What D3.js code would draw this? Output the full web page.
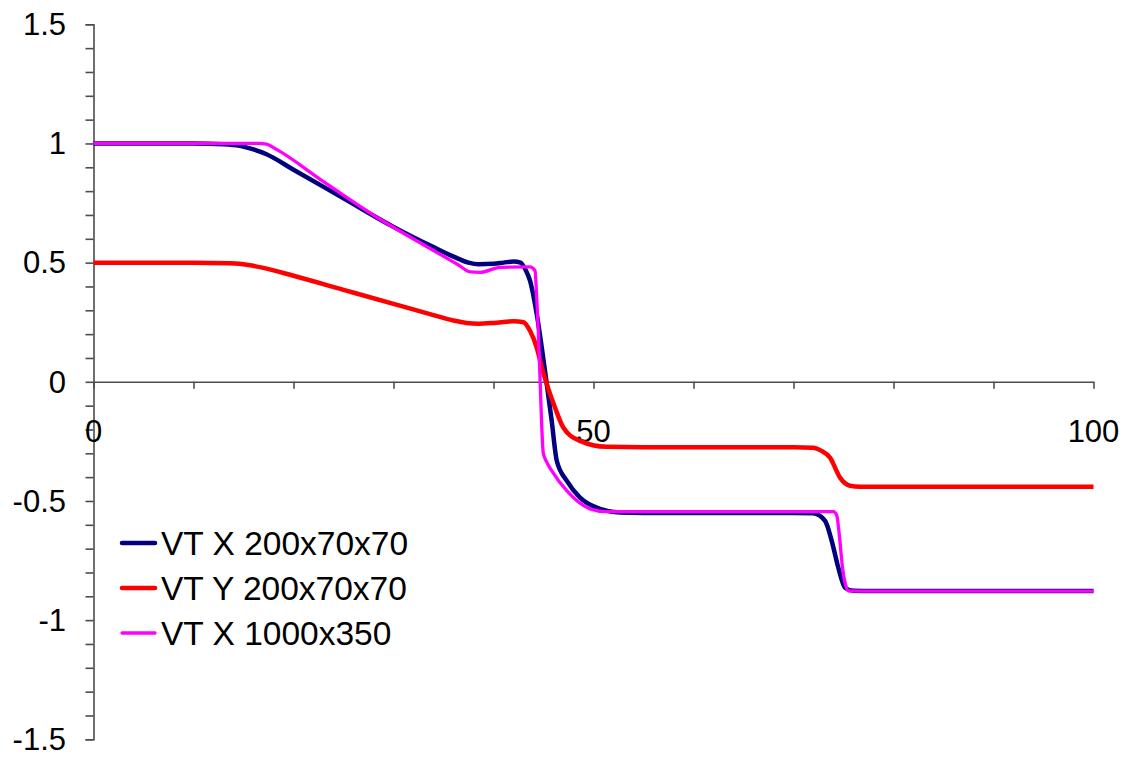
<!DOCTYPE html>
<html>
<head>
<meta charset="utf-8">
<script src="https://cdn.jsdelivr.net/npm/d3@7"></script>
<style>
  html, body { margin: 0; padding: 0; background: #fff; }
  svg { display: block; font-family: "Liberation Sans", Arial, sans-serif; }
</style>
</head>
<body>
<svg id="chart" width="1130" height="758"></svg>
<script>
// Velocity profiles along the channel
const seriesNames = ["VT X 200x70x70", "VT Y 200x70x70", "VT X 1000x350"];

const vtX200_x = [0, 10, 13, 14.65, 16, 17.3, 20, 25, 30, 34, 36, 37.5, 38.5, 40, 41, 42, 42.7, 43.2,
  43.65, 44.32, 45.15, 45.82, 46.32, 47.32, 48.65, 50.65, 52.65, 55, 60, 65, 70, 71.95, 73.15, 73.82, 74.48, 75.15, 75.98, 78, 85, 100];
const vtX200_y = [1, 1, 0.997, 0.99, 0.975, 0.955, 0.89, 0.77, 0.65, 0.565, 0.525, 0.5, 0.493, 0.495, 0.5, 0.505, 0.5, 0.47,
  0.424, 0.285, 0.046, -0.164, -0.33, -0.415, -0.486, -0.533, -0.548, -0.55, -0.55, -0.55, -0.55, -0.552, -0.583, -0.667, -0.78, -0.864, -0.877, -0.878, -0.878, -0.878];

const vtY200_x = [0, 10, 13.65, 15.5, 17, 20, 25, 30, 34, 36, 37.3, 38.5, 40, 42, 43, 43.65, 44.32, 44.9,
  46.15, 46.98, 48.65, 51.32, 55, 60, 65, 70, 71.95, 72.8, 73.65, 74.65, 75.65, 76.65, 80, 90, 100];
const vtY200_y = [0.5, 0.5, 0.497, 0.49, 0.478, 0.445, 0.386, 0.327, 0.28, 0.257, 0.247, 0.244, 0.247, 0.254, 0.25, 0.214, 0.144, 0.05,
  -0.108, -0.192, -0.248, -0.273, -0.275, -0.275, -0.275, -0.275, -0.277, -0.29, -0.318, -0.402, -0.436, -0.44, -0.44, -0.44, -0.44];

const vtX1000_x = [0, 10, 16.5, 17.3, 18.3, 23, 28.65, 33, 36.5, 37.65, 38.65, 40.65, 43.65, 44.15, 44.32, 44.48, 44.65, 44.98,
  45.3, 45.82, 47.32, 49.65, 51.32, 55, 60, 65, 70, 74.0, 74.32, 74.6, 74.9, 75.2, 75.48, 78, 85, 100];
const vtX1000_y = [1, 1, 1, 0.997, 0.975, 0.84, 0.682, 0.575, 0.49, 0.461, 0.459, 0.48, 0.482, 0.466, 0.354, 0.214, 0.018, -0.3,
  -0.335, -0.373, -0.457, -0.533, -0.545, -0.545, -0.545, -0.545, -0.545, -0.545, -0.56, -0.65, -0.78, -0.85, -0.877, -0.878, -0.878, -0.878];

const yTickLabels = [-1.5, -1, -0.5, 0, 0.5, 1, 1.5];
const xTickLabels = [0, 50, 100];

const colors = ["#000080", "#ff0000", "#ff00ff"];
const widths = [4.5, 4.5, 3.3];

const series = [
  { name: seriesNames[0], xs: vtX200_x, ys: vtX200_y },
  { name: seriesNames[1], xs: vtY200_x, ys: vtY200_y },
  { name: seriesNames[2], xs: vtX1000_x, ys: vtX1000_y }
];

const svg = d3.select("#chart");

const x = d3.scaleLinear().domain([0, 100]).range([93.5, 1093.5]);
const y = d3.scaleLinear().domain([-1.5, 1.5]).range([739.3, 24.3]);

const axisColor = "#4d4d4d";
const fontSize = 31;

// Y axis: minor ticks every 0.1, labels every 0.5
const yAxis = d3.axisLeft(y)
  .tickValues(d3.range(-15, 16).map(d => d / 10))
  .tickSize(8)
  .tickFormat("");
const gy = svg.append("g").attr("transform", `translate(${x(0)},0)`).call(yAxis);
gy.select(".domain").attr("stroke", axisColor).attr("stroke-width", 1.6);
gy.selectAll(".tick line").attr("stroke", axisColor).attr("stroke-width", 1.6);

svg.append("g").selectAll("text")
  .data(yTickLabels)
  .join("text")
  .attr("x", 66)
  .attr("y", d => y(d))
  .attr("dy", "0.35em")
  .attr("text-anchor", "end")
  .attr("font-size", fontSize)
  .attr("fill", "#000")
  .text(d => d);

// X axis crosses at y = 0, ticks every 10
const xAxis = d3.axisBottom(x)
  .tickValues(d3.range(0, 101, 10))
  .tickSize(7)
  .tickSizeOuter(0)
  .tickFormat("");
const gx = svg.append("g").attr("transform", `translate(0,${y(0)})`).call(xAxis);
gx.select(".domain").attr("stroke", axisColor).attr("stroke-width", 1.6);
gx.selectAll(".tick line").attr("stroke", axisColor).attr("stroke-width", 1.6);

svg.append("g").selectAll("text")
  .data(xTickLabels)
  .join("text")
  .attr("x", d => x(d))
  .attr("y", y(0) + 60)
  .attr("text-anchor", "middle")
  .attr("font-size", fontSize)
  .attr("fill", "#000")
  .text(d => d);

// Profiles
const line = d3.line()
  .x(d => x(d[0]))
  .y(d => y(d[1]))
  .curve(d3.curveMonotoneX);

series.forEach((s, i) => {
  const pts = s.xs.map((v, k) => [v, s.ys[k]]);
  svg.append("path")
    .datum(pts)
    .attr("fill", "none")
    .attr("stroke", colors[i])
    .attr("stroke-width", widths[i])
    .attr("stroke-linejoin", "round")
    .attr("d", line);
});

// Legend
const legend = svg.append("g");
series.forEach((s, i) => {
  const cy = 543 + i * 45;
  legend.append("line")
    .attr("x1", 122).attr("x2", 155)
    .attr("y1", cy).attr("y2", cy)
    .attr("stroke", colors[i])
    .attr("stroke-width", widths[i])
    .attr("stroke-linecap", "round");
  legend.append("text")
    .attr("x", 161)
    .attr("y", cy)
    .attr("dy", "0.36em")
    .attr("font-size", 33.5)
    .attr("fill", "#000")
    .text(s.name);
});
</script>
</body>
</html>
